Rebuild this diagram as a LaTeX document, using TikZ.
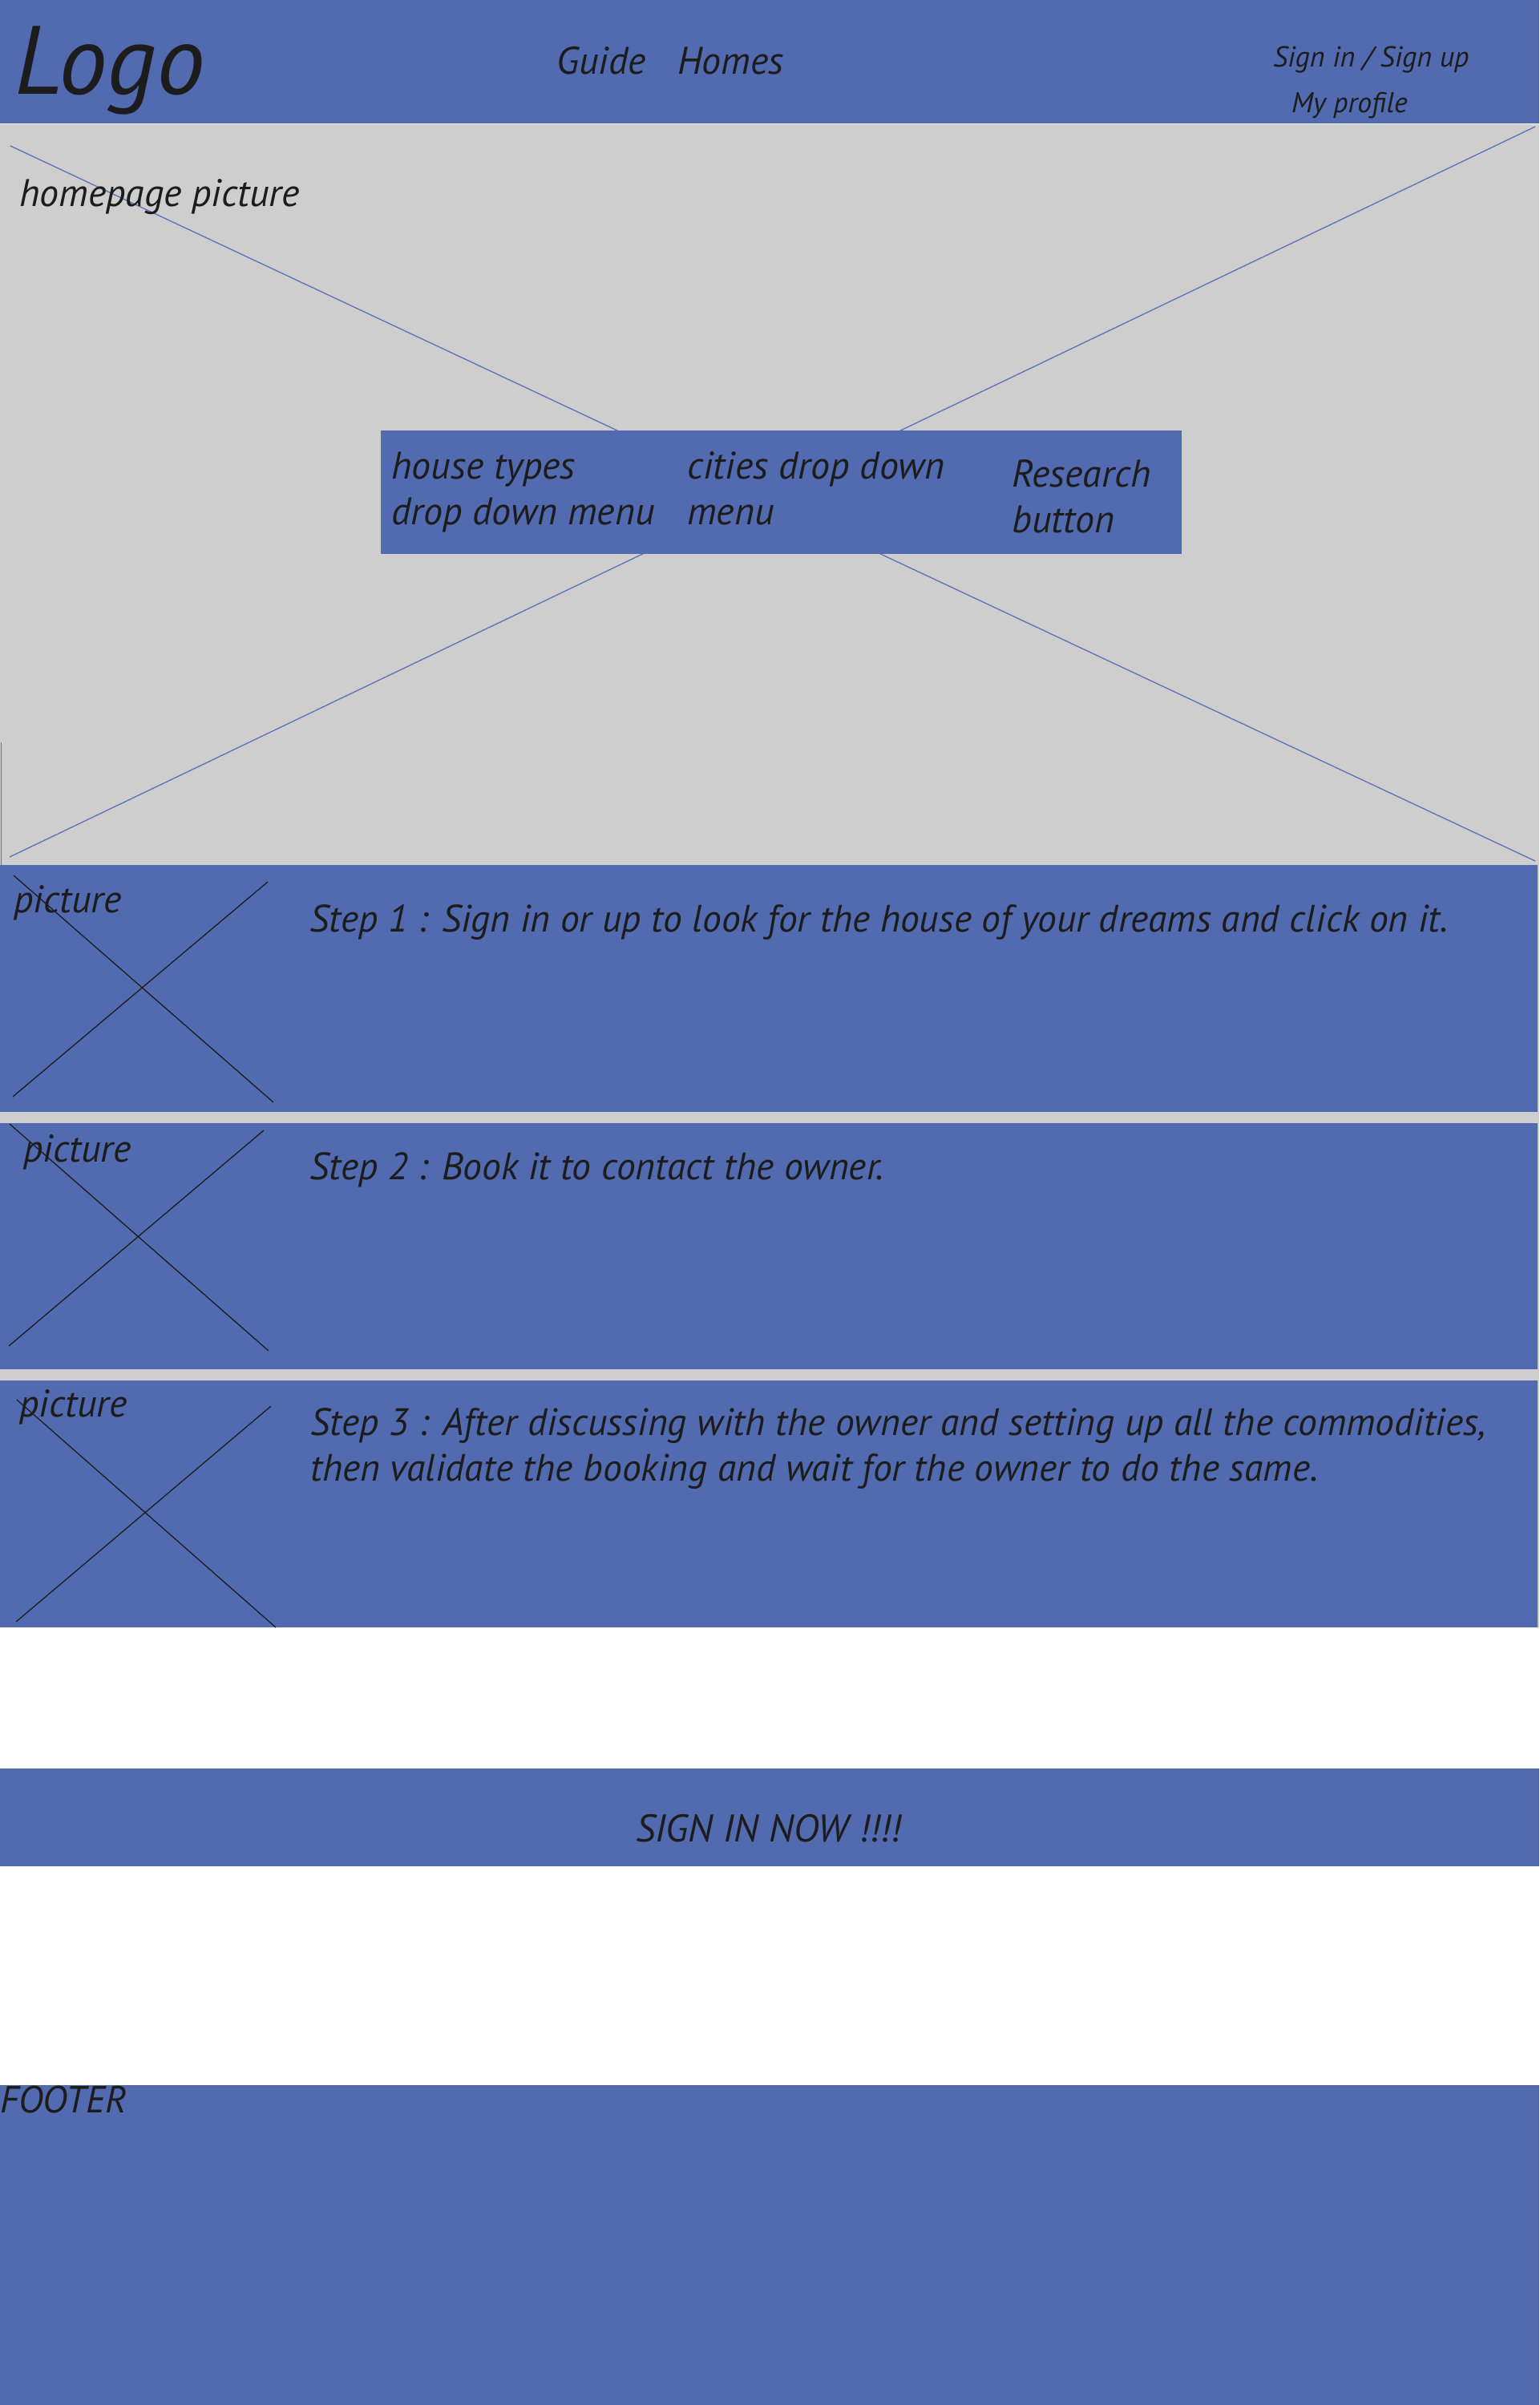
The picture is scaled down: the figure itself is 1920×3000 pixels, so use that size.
\documentclass[tikz,border=0pt]{standalone}
\usepackage{fontspec}
\setmainfont{PT Sans}
\definecolor{wfblue}{HTML}{526BB0}
\definecolor{wfgrey}{HTML}{CECECE}
\definecolor{ink}{HTML}{1C1C1C}
\definecolor{xblue}{HTML}{5B70B6}
\begin{document}
\begin{tikzpicture}[x=1pt,y=-1pt,
  txt/.style={anchor=base west, inner sep=0pt, text=ink, font=\itshape\fontsize{48}{57}\selectfont},
  big/.style={txt, font=\itshape\fontsize{47.6}{57}\selectfont},
  band/.style={fill=wfblue, draw=none},
  greyband/.style={fill=wfgrey, draw=none},
  xline/.style={draw=xblue, line width=1.3pt},
  pline/.style={draw=ink, line width=1.3pt}]
\useasboundingbox (0,0) rectangle (1920,3000);
\fill[white] (0,0) rectangle (1920,3000);

% header
\path[band] (0,0) rectangle (1920,154);
\node[txt, font=\itshape\fontsize{121}{130}\selectfont] (logo) at (18,118) {Logo};
\node[txt] (guide) at (694,93) {Guide};
\node[txt] (homes) at (845,93) {Homes};
\node[txt, font=\itshape\fontsize{36}{44}\selectfont] (signin) at (1588,84) {Sign in / Sign up};
\node[txt, font=\itshape\fontsize{35.8}{40}\selectfont] (profile) at (1611,140) {My profile};

% grey background for hero and steps
\path[greyband] (0,155) rectangle (1920,2030);
\draw[xblue, line width=1pt] (1,926) -- (1,1079);

% hero cross
\coordinate (h1) at (13,182);
\coordinate (h2) at (1915,1074);
\coordinate (h3) at (1915,158);
\coordinate (h4) at (12,1069);
\path[xline] (h1) -- (h2);
\path[xline] (h3) -- (h4);
\node[txt] (hero) at (24,257) {homepage picture};

% search box
\path[band] (475,537) rectangle (1474,691);
\node[txt] (ht1) at (488,597) {house types};
\node[txt] (ht2) at (488,654) {drop down menu};
\node[txt] (cd1) at (857,597) {cities drop down};
\node[txt] (cd2) at (857,654) {menu};
\node[txt] (rb1) at (1262,607) {Research};
\node[txt] (rb2) at (1262,664) {button};

% step 1
\path[band] (0,1079) rectangle (1918,1387);
\coordinate (a1) at (17,1092);
\coordinate (a2) at (341,1375);
\coordinate (a3) at (334,1100);
\coordinate (a4) at (16,1368);
\path[pline] (a1) -- (a2);
\path[pline] (a3) -- (a4);
\node[txt] (pic1) at (17,1138) {picture};
\node[big] (step1) at (386,1162) {Step 1 : Sign in or up to look for the house of your dreams and click on it.};

% step 2
\path[band] (0,1401) rectangle (1918,1708);
\coordinate (b1) at (12,1402);
\coordinate (b2) at (335,1685);
\coordinate (b3) at (329,1410);
\coordinate (b4) at (11,1679);
\path[pline] (b1) -- (b2);
\path[pline] (b3) -- (b4);
\node[txt] (pic2) at (29,1449) {picture};
\node[big] (step2) at (386,1471) {Step 2 : Book it to contact the owner.};

% step 3
\path[band] (0,1722) rectangle (1918,2030);
\coordinate (c1) at (21,1746);
\coordinate (c2) at (344,2030);
\coordinate (c3) at (338,1754);
\coordinate (c4) at (20,2023);
\path[pline] (c1) -- (c2);
\path[pline] (c3) -- (c4);
\node[txt] (pic3) at (24,1767) {picture};
\node[big] (step3a) at (387,1790) {Step 3 : After discussing with the owner and setting up all the commodities,};
\node[big] (step3b) at (387,1847) {then validate the booking and wait for the owner to do the same.};

% sign in bar
\path[band] (0,2206) rectangle (1920,2328);
\node[txt] (signnow) at (793,2297) {SIGN IN NOW !!!!};

% footer
\path[band] (0,2601) rectangle (1920,3000);
\node[txt, font=\itshape\fontsize{47}{56}\selectfont] (footer) at (0,2635) {FOOTER};
\end{tikzpicture}
\end{document}
